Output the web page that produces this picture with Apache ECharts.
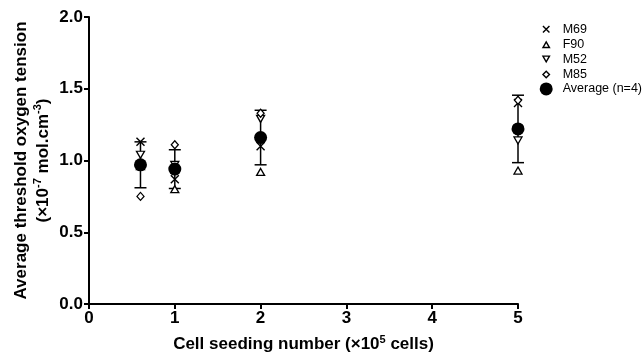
<!DOCTYPE html>
<html>
<head>
<meta charset="utf-8">
<script src="https://cdn.jsdelivr.net/npm/echarts@6/dist/echarts.min.js"></script>
<style>
  body { margin: 0; background: #fff; }
  #chart { width: 642px; height: 354px; }
</style>
</head>
<body>
<div id="chart"></div>
<script>
var seeding = [0.6, 1, 2, 5];
var m69 = [1.13, 0.87, 1.10, 1.40];
var f90 = [0.96, 0.80, 0.92, 0.93];
var m52 = [1.04, 0.97, 1.29, 1.14];
var m85 = [0.75, 1.11, 1.33, 1.42];
var average = [0.97, 0.94, 1.16, 1.22];
var sd = [0.16, 0.135, 0.19, 0.235];
var xTicks = [0, 1, 2, 3, 4, 5];
var yTicks = [0.0, 0.5, 1.0, 1.5, 2.0];

var crossPath = 'path://M0,0L10,10M10,0L0,10';
// legend icons padded with empty moves so they draw small inside the box
var legendCross = 'path://M-4,-4M0,0L8,8M8,0L0,8M12,12';
var legendUp = 'path://M-4,-4M0,8L4,1L8,8ZM12,12';
var legendDown = 'path://M-4,-4M0,0L8,0L4,7ZM12,12';
var legendDiamond = 'path://M-4,-4M4,0L8,4L4,8L0,4ZM12,12';

function pairs(ys) {
    return seeding.map(function (x, i) { return [x, ys[i]]; });
}

var errData = seeding.map(function (x, i) {
    return [x, average[i] - sd[i], average[i] + sd[i]];
});

var chart = echarts.init(document.getElementById('chart'));
var hollow = { color: '#fff', borderColor: '#000', borderWidth: 1.3, opacity: 1 };
var supStyle = { fontSize: 11, fontWeight: 'bold', verticalAlign: 'top', padding: [0, 0, 9, 0], fontFamily: 'Liberation Sans', color: '#000' };
var option = {
    animation: false,
    grid: { left: 89, right: 124, top: 17, bottom: 50, outerBoundsMode: 'none', containLabel: false },
    legend: {
        orient: 'vertical',
        left: 539,
        top: 22,
        padding: 0,
        itemGap: 0.7,
        itemWidth: 13,
        itemHeight: 13,
        textStyle: { color: '#000', fontSize: 12.5, lineHeight: 13, fontFamily: 'Liberation Sans', padding: [0, 0, 0, 5] },
        data: [
            { name: 'M69', icon: legendCross, itemStyle: { color: '#000', borderColor: '#000', borderWidth: 1.4 } },
            { name: 'F90', icon: legendUp, itemStyle: { color: '#fff', borderColor: '#000', borderWidth: 1.4 } },
            { name: 'M52', icon: legendDown, itemStyle: { color: '#fff', borderColor: '#000', borderWidth: 1.4 } },
            { name: 'M85', icon: legendDiamond, itemStyle: { color: '#fff', borderColor: '#000', borderWidth: 1.4 } },
            { name: 'Average (n=4)', icon: 'circle', itemStyle: { color: '#000', opacity: 1 } }
        ]
    },
    xAxis: {
        type: 'value',
        min: 0, max: 5, interval: 1,
        name: 'Cell seeding number (×10{sup|5} cells)',
        nameLocation: 'middle',
        nameGap: 30,
        nameMoveOverlap: false,
        nameTextStyle: {
            color: '#000', fontSize: 17, fontWeight: 'bold', fontFamily: 'Liberation Sans',
            rich: { sup: supStyle }
        },
        axisLine: { lineStyle: { color: '#000', width: 2 } },
        axisTick: { lineStyle: { color: '#000', width: 2 }, length: 5 },
        axisLabel: {
            color: '#000', fontSize: 17, fontWeight: 'bold', fontFamily: 'Liberation Sans', margin: 6,
            formatter: function (v) { return xTicks.indexOf(v) >= 0 ? String(v) : ''; }
        },
        splitLine: { show: false }
    },
    yAxis: {
        type: 'value',
        min: 0, max: 2, interval: 0.5,
        name: 'Average threshold oxygen tension\n(×10{sup|-7} mol.cm{sup|-3})',
        nameLocation: 'middle',
        nameGap: 35,
        nameMoveOverlap: false,
        nameTextStyle: {
            color: '#000', fontSize: 17, fontWeight: 'bold', fontFamily: 'Liberation Sans', lineHeight: 22,
            rich: { sup: supStyle }
        },
        axisLine: { show: true, lineStyle: { color: '#000', width: 2 } },
        axisTick: { show: true, lineStyle: { color: '#000', width: 2 }, length: 5 },
        axisLabel: {
            color: '#000', fontSize: 17, fontWeight: 'bold', fontFamily: 'Liberation Sans', margin: 6,
            formatter: function (v) { return yTicks.indexOf(v) >= 0 ? v.toFixed(1) : ''; }
        },
        splitLine: { show: false }
    },
    series: [
        {
            type: 'custom',
            name: 'err',
            z: 1,
            renderItem: function (params, api) {
                var x = api.value(0);
                var lo = api.coord([x, api.value(1)]);
                var hi = api.coord([x, api.value(2)]);
                var w = 6;
                var st = { stroke: '#000', lineWidth: 1.5 };
                return {
                    type: 'group',
                    children: [
                        { type: 'line', shape: { x1: lo[0], y1: lo[1], x2: hi[0], y2: hi[1] }, style: st },
                        { type: 'line', shape: { x1: lo[0] - w, y1: lo[1], x2: lo[0] + w, y2: lo[1] }, style: st },
                        { type: 'line', shape: { x1: hi[0] - w, y1: hi[1], x2: hi[0] + w, y2: hi[1] }, style: st }
                    ]
                };
            },
            encode: { x: 0, y: [1, 2] },
            data: errData
        },
        {
            name: 'M69', type: 'scatter', z: 2,
            symbol: crossPath, symbolSize: 8,
            itemStyle: { color: '#000', borderColor: '#000', borderWidth: 1.4, opacity: 1 },
            data: pairs(m69)
        },
        {
            name: 'F90', type: 'scatter', z: 2,
            symbol: 'triangle', symbolSize: [8, 7],
            itemStyle: hollow,
            data: pairs(f90)
        },
        {
            name: 'M52', type: 'scatter', z: 2,
            symbol: 'triangle', symbolRotate: 180, symbolSize: [8, 7],
            itemStyle: hollow,
            data: pairs(m52)
        },
        {
            name: 'M85', type: 'scatter', z: 2,
            symbol: 'diamond', symbolSize: [7, 8],
            itemStyle: hollow,
            data: pairs(m85)
        },
        {
            name: 'Average (n=4)', type: 'scatter', z: 3,
            symbol: 'circle', symbolSize: 13,
            itemStyle: { color: '#000', opacity: 1 },
            data: pairs(average)
        }
    ]
};
chart.setOption(option);
</script>
</body>
</html>
